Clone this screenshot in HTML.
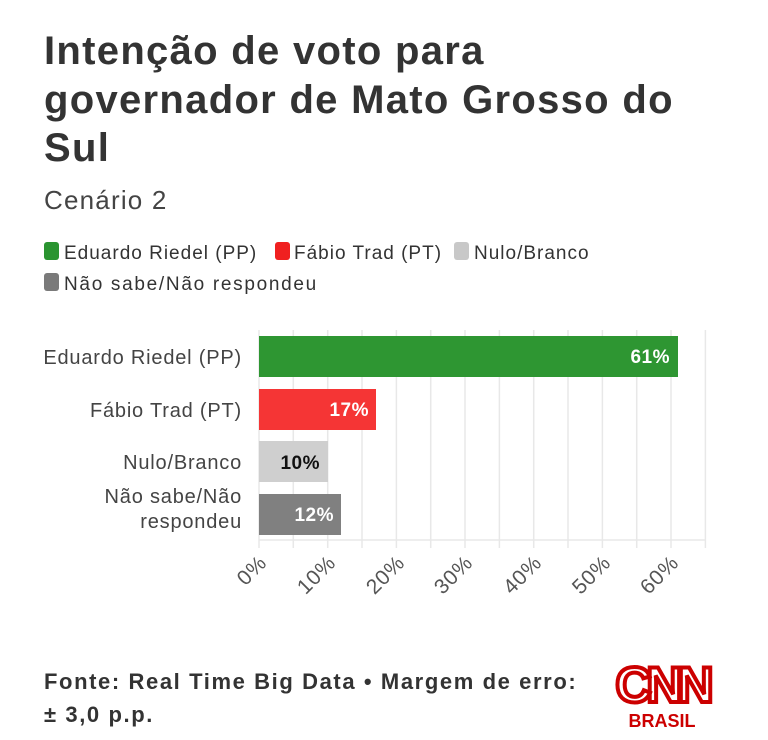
<!DOCTYPE html>
<html><head><meta charset="utf-8"><style>
body{margin:0;width:768px;height:735px;background:#fff;font-family:"Liberation Sans",sans-serif;overflow:hidden}
</style></head><body>
<svg width="768" height="735" xmlns="http://www.w3.org/2000/svg" font-family="Liberation Sans, sans-serif">
<g font-size="40" font-weight="bold" fill="#333" letter-spacing="1.3">
<text x="44" y="64">Intenção de voto para</text>
<text x="44" y="113">governador de Mato Grosso do</text>
<text x="44" y="161">Sul</text>
</g>
<text x="44" y="209" font-size="26" fill="#444" letter-spacing="1.2">Cenário 2</text>
<g font-size="19" fill="#333" letter-spacing="1">
<rect x="44" y="242" width="15" height="18" rx="3" fill="#2a9430"/><text x="64" y="259">Eduardo Riedel (PP)</text>
<rect x="275" y="242" width="15" height="18" rx="3" fill="#f02020"/><text x="294" y="259">Fábio Trad (PT)</text>
<rect x="454" y="242" width="15" height="18" rx="3" fill="#c8c8c8"/><text x="474" y="259">Nulo/Branco</text>
<rect x="44" y="273" width="15" height="18" rx="3" fill="#7a7a7a"/><text x="64" y="290" letter-spacing="1.7">Não sabe/Não respondeu</text>
</g>
<g stroke="#e8e8e8" stroke-width="1.5">
<line x1="259" y1="330" x2="259" y2="548"/><line x1="293.3" y1="330" x2="293.3" y2="548"/>
<line x1="327.7" y1="330" x2="327.7" y2="548"/><line x1="362" y1="330" x2="362" y2="548"/>
<line x1="396.4" y1="330" x2="396.4" y2="548"/><line x1="430.7" y1="330" x2="430.7" y2="548"/>
<line x1="465" y1="330" x2="465" y2="548"/><line x1="499.4" y1="330" x2="499.4" y2="548"/>
<line x1="533.7" y1="330" x2="533.7" y2="548"/><line x1="568" y1="330" x2="568" y2="548"/>
<line x1="602.4" y1="330" x2="602.4" y2="548"/><line x1="636.7" y1="330" x2="636.7" y2="548"/>
<line x1="671" y1="330" x2="671" y2="548"/><line x1="705.4" y1="330" x2="705.4" y2="548"/>
<line x1="259" y1="540" x2="706" y2="540"/>
</g>
<rect x="259" y="336" width="419" height="41" fill="#2e9632"/>
<rect x="259" y="389" width="117" height="41" fill="#f53535"/>
<rect x="259" y="441" width="69" height="41" fill="#cfcfcf"/>
<rect x="259" y="494" width="82" height="41" fill="#808080"/>
<g font-size="19" font-weight="bold" text-anchor="end" letter-spacing="0.5">
<text x="670" y="363" fill="#fff">61%</text>
<text x="369" y="416" fill="#fff">17%</text>
<text x="320" y="469" fill="#111">10%</text>
<text x="334" y="521" fill="#fff">12%</text>
</g>
<g font-size="20" fill="#444" text-anchor="end" letter-spacing="0.8">
<text x="242" y="364">Eduardo Riedel (PP)</text>
<text x="242" y="417">Fábio Trad (PT)</text>
<text x="242" y="469">Nulo/Branco</text>
<text x="242" y="503">Não sabe/Não</text>
<text x="242" y="528">respondeu</text>
</g>
<g font-size="21" fill="#555" text-anchor="end" letter-spacing="0.8">
<text transform="translate(268,564) rotate(-45)">0%</text>
<text transform="translate(337,564) rotate(-45)">10%</text>
<text transform="translate(406,564) rotate(-45)">20%</text>
<text transform="translate(474,564) rotate(-45)">30%</text>
<text transform="translate(543,564) rotate(-45)">40%</text>
<text transform="translate(612,564) rotate(-45)">50%</text>
<text transform="translate(680,564) rotate(-45)">60%</text>
</g>
<g font-size="22" font-weight="bold" fill="#333" letter-spacing="1.6">
<text x="44" y="689">Fonte: Real Time Big Data • Margem de erro:</text>
<text x="44" y="722">± 3,0 p.p.</text>
</g>
<text x="662" y="702" font-size="50" font-weight="bold" fill="#fff" stroke="#cc0000" stroke-width="4" text-anchor="middle" letter-spacing="-5">CNN</text>
<text x="662" y="727" font-size="18" font-weight="bold" fill="#cc0000" text-anchor="middle">BRASIL</text>
</svg>
</body></html>
